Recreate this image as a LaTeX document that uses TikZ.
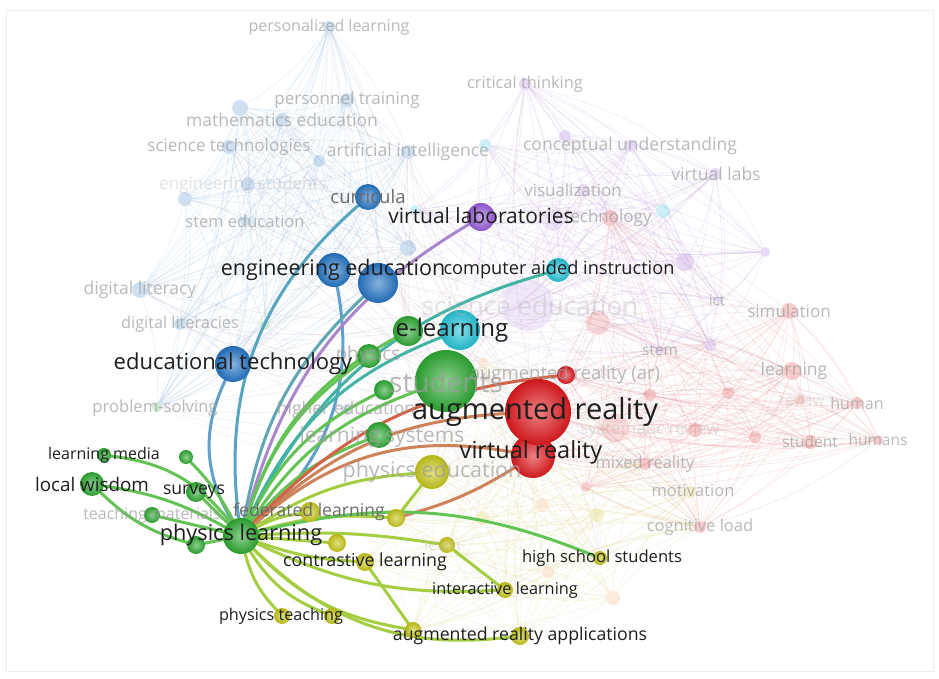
\documentclass[tikz,border=0pt]{standalone}
\usepackage{fontspec}
\setmainfont{Open Sans}

\pgfdeclarelayer{paper}
\pgfdeclarelayer{faintedges}
\pgfdeclarelayer{faintnodes}
\pgfdeclarelayer{edges}
\pgfdeclarelayer{fadedlabels}
\pgfdeclarelayer{labels}
\pgfsetlayers{paper,faintedges,faintnodes,edges,main,fadedlabels,labels}

% cluster colours
\definecolor{vgreen}{RGB}{45,168,50}
\definecolor{vblue}{RGB}{35,115,195}
\definecolor{vred}{RGB}{222,25,30}
\definecolor{vyellow}{RGB}{198,198,25}
\definecolor{vpurple}{RGB}{150,90,215}
\definecolor{vcyan}{RGB}{35,195,215}
\definecolor{vorange}{RGB}{245,160,90}
% highlighted link colours
\definecolor{egreen}{RGB}{100,195,85}
\definecolor{eteal}{RGB}{65,180,165}
\definecolor{eblue}{RGB}{95,160,205}
\definecolor{epurple}{RGB}{170,135,205}
\definecolor{ebrown}{RGB}{205,130,90}
\definecolor{eyellow}{RGB}{165,205,65}
% background mesh colours
\definecolor{meshblue}{RGB}{120,170,220}
\definecolor{meshpurple}{RGB}{175,140,220}
\definecolor{meshred}{RGB}{235,120,120}
\definecolor{meshyellow}{RGB}{215,205,110}
\definecolor{labelink}{RGB}{30,30,30}

\tikzset{
  ball/.style 2 args={circle, inner sep=0pt, minimum size=#2pt, shading=radial,
    inner color=#1!55!white, outer color=#1!92!black},
  haze/.style 2 args={circle, inner sep=0pt, minimum size=#2pt, fill=#1, fill opacity=0.22},
  link/.style={line width=3pt, line cap=round},
  mesh/.style={line width=0.7pt, draw opacity=0.16},
  lab/.style={inner sep=0pt, text=labelink, font=\fontsize{#1}{#1}\selectfont},
  midlab/.style={inner sep=0pt, text=black!58, font=\fontsize{#1}{#1}\selectfont},
  dim/.style={inner sep=0pt, text=black!38, text opacity=0.72, font=\fontsize{#1}{#1}\selectfont},
  dimmer/.style={inner sep=0pt, text=black!30, text opacity=0.35, font=\fontsize{#1}{#1}\selectfont},
}

\begin{document}
\begin{tikzpicture}[x=1pt,y=-1pt]
\useasboundingbox (0,0) rectangle (939,679);
\begin{pgfonlayer}{paper}
\fill[white] (0,0) rectangle (939,679);
\draw[black!7, line width=0.8pt] (6,10) rectangle (933,671);
\end{pgfonlayer}

% ---------- faded items ----------
\begin{pgfonlayer}{faintnodes}
% blue cluster
\node[haze={vblue}{12}] (perl) at (329,27) {};
\node[haze={vblue}{14}] (pert) at (347,100) {};
\node[haze={vblue}{16}] (b240) at (240,108) {};
\node[haze={vblue}{14}] (mathe) at (282,120) {};
\node[haze={vblue}{14}] (scit) at (229,147) {};
\node[haze={vblue}{14}] (ai) at (408,152) {};
\node[haze={vblue}{12}] (b319) at (319,161) {};
\node[haze={vblue}{14}] (engs) at (248,184) {};
\node[haze={vblue}{14}] (b185) at (185,199) {};
\node[haze={vblue}{10}] (stemed) at (245,221) {};
\node[haze={vblue}{16}] (diglit) at (140,290) {};
\node[haze={vblue}{12}] (diglits) at (180,324) {};
\node[haze={vblue}{16}] (b410) at (408,248) {};
\node[haze={vblue}{10}] (he) at (346,410) {};
% green
\node[haze={vgreen}{10}] (ps) at (157,407) {};
\node[haze={vgreen}{10}] (g265) at (265,325) {};
% purple and cyan
\node[haze={vpurple}{12}] (ct) at (525,84) {};
\node[haze={vpurple}{12}] (p565) at (565,136) {};
\node[haze={vpurple}{12}] (cu) at (630,146) {};
\node[haze={vpurple}{12}] (vis) at (583,190) {};
\node[haze={vpurple}{12}] (vlabs) at (715,174) {};
\node[haze={vpurple}{52}, fill opacity=0.13] (se) at (528,305) {};
\node[haze={vpurple}{18}] (p685) at (685,262) {};
\node[haze={vpurple}{10}] (p765) at (765,252) {};
\node[haze={vpurple}{12}] (p710) at (710,345) {};
\node[haze={vpurple}{6}] (ict) at (720,300) {};
\node[haze={vpurple}{8}] (stemn) at (660,350) {};
\node[haze={vpurple}{22}, fill opacity=0.15] (p548) at (553,220) {};
\node[haze={vcyan}{12}] (c485) at (485,145) {};
\node[haze={vcyan}{14}] (c663) at (663,211) {};
\node[haze={vcyan}{10}] (c415) at (415,210) {};
% red
\node[haze={vred}{16}] (tech) at (610,218) {};
\node[haze={vred}{24}, fill opacity=0.16] (r598) at (598,323) {};
\node[haze={vred}{16}] (sim) at (789,311) {};
\node[haze={vred}{18}] (lrng) at (792,371) {};
\node[haze={vred}{10}] (rev) at (800,400) {};
\node[haze={vred}{12}] (hum) at (857,403) {};
\node[haze={vred}{10}] (hums) at (878,440) {};
\node[haze={vred}{14}] (studnt) at (810,442) {};
\node[haze={vred}{28}, fill opacity=0.14] (r615) at (615,428) {};
\node[haze={vred}{12}] (r650) at (650,395) {};
\node[haze={vred}{12}] (r728) at (728,393) {};
\node[haze={vred}{14}] (sysr) at (695,430) {};
\node[haze={vred}{12}] (r755) at (755,437) {};
\node[haze={vred}{12}] (mr) at (645,464) {};
\node[haze={vred}{12}] (cog) at (700,527) {};
\node[haze={vred}{10}] (r586) at (586,487) {};
% orange and yellow
\node[haze={vorange}{14}] (o542) at (542,505) {};
\node[haze={vorange}{12}] (o548) at (548,572) {};
\node[haze={vorange}{14}] (o613) at (613,598) {};
\node[haze={vorange}{10}] (o483) at (483,362) {};
\node[haze={vyellow}{12}] (mot) at (690,492) {};
\node[haze={vyellow}{14}] (o597) at (597,515) {};
\node[haze={vyellow}{14}] (y482) at (482,518) {};
\end{pgfonlayer}

% ---------- highlighted nodes ----------
\node[ball={vgreen}{36}] (pl) at (241,536) {};
\node[ball={vblue}{26}] (curr) at (368,197) {};
\node[ball={vblue}{34}] (ee) at (334,270) {};
\node[ball={vblue}{40}] (ee2) at (378,283) {};
\node[ball={vblue}{36}] (et) at (233,364) {};
\node[ball={vpurple}{28}] (vl) at (481,217) {};
\node[ball={vcyan}{24}] (cai) at (558,270) {};
\node[ball={vgreen}{30}] (elg) at (408,331) {};
\node[ball={vcyan}{40}] (elc) at (460,330) {};
\node[ball={vgreen}{24}] (phy) at (369,356) {};
\node[ball={vgreen}{20}] (g1) at (384,390) {};
\node[ball={vgreen}{62}] (stu) at (446,381) {};
\node[ball={vgreen}{26}] (ls) at (379,435) {};
\node[ball={vred}{18}] (arar) at (566,375) {};
\node[ball={vred}{44}] (vr) at (533,456) {};
\node[ball={vred}{66}] (ar) at (538,412) {};
\node[ball={vyellow}{34}] (pe) at (432,472) {};
\node[ball={vyellow}{18}] (y396) at (396,518) {};
\node[ball={vyellow}{20}] (fed) at (310,512) {};
\node[ball={vyellow}{18}] (y337) at (337,543) {};
\node[ball={vyellow}{18}] (cl) at (365,562) {};
\node[ball={vyellow}{16}] (lrn) at (447,545) {};
\node[ball={vyellow}{14}] (hss) at (600,558) {};
\node[ball={vyellow}{16}] (il) at (505,590) {};
\node[ball={vyellow}{18}] (ara) at (520,636) {};
\node[ball={vyellow}{16}] (ara2) at (413,630) {};
\node[ball={vyellow}{16}] (pt) at (282,616) {};
\node[ball={vyellow}{16}] (pt2) at (332,616) {};
\node[ball={vgreen}{14}] (lm) at (104,455) {};
\node[ball={vgreen}{14}] (g186) at (186,457) {};
\node[ball={vgreen}{24}] (lw) at (92,484) {};
\node[ball={vgreen}{20}] (sur) at (196,492) {};
\node[ball={vgreen}{16}] (tm) at (152,515) {};
\node[ball={vgreen}{18}] (g196) at (196,545) {};

% ---------- background co-occurrence mesh ----------
\def\bluelist{perl,pert,b240,mathe,scit,ai,b319,engs,b185,stemed,diglit,diglits,b410,curr,ee,ee2,et,ps,g265}
\def\purplelist{ct,p565,cu,vis,vlabs,se,p685,p765,p710,ict,stemn,p548,vl,c485,c663,c415,cai,elc,tech}
\def\redlist{tech,r598,sim,lrng,rev,hum,hums,studnt,r615,r650,r728,sysr,r755,mr,cog,ar,vr,arar,stemn,p710,r586}
\def\yellowlist{pe,o542,o597,o548,o613,o483,y482,mot,hss,il,ara,ara2,lrn,cl,y396,mr,cog,vr,ar}
\begin{pgfonlayer}{faintedges}
\foreach \a [count=\i] in \bluelist {
  \foreach \b [count=\j] in \bluelist {
    \ifnum\j>\i \draw[mesh, meshblue] (\a) to[bend left=10] (\b); \fi
  }
}
\foreach \a [count=\i] in \purplelist {
  \foreach \b [count=\j] in \purplelist {
    \ifnum\j>\i \draw[mesh, meshpurple] (\a) to[bend left=10] (\b); \fi
  }
}
\foreach \a [count=\i] in \redlist {
  \foreach \b [count=\j] in \redlist {
    \ifnum\j>\i \draw[mesh, meshred] (\a) to[bend left=10] (\b); \fi
  }
}
\foreach \a [count=\i] in \yellowlist {
  \foreach \b [count=\j] in \yellowlist {
    \ifnum\j>\i \draw[mesh, meshyellow] (\a) to[bend left=10] (\b); \fi
  }
}
\foreach \h in {ar,stu,se} {
  \foreach \b in {perl,pert,mathe,scit,ai,ct,cu,vlabs,sim,lrng,hum,hums,studnt,diglit,ps,mot,cog,hss,stemed,diglits,b240,p685} {
    \draw[mesh, meshred!50!meshblue] (\h) to[bend left=10] (\b);
  }
}
\foreach \h in {et,ee,elg,pe,vr} {
  \foreach \b in {ai,b410,c415,vis,p548,r598,r615,r650,o483,o542,y482,mr,he,g265,diglits,ps,lrng,sim} {
    \draw[mesh, draw opacity=0.1, meshblue!50!meshred] (\h) to[bend left=10] (\b);
  }
}
\end{pgfonlayer}

% ---------- highlighted links ----------
\begin{pgfonlayer}{edges}
\draw[link, eblue] (pl) to[bend left=28] (et);
\draw[link, eblue!70!eteal] (pl) to[bend left=28] (curr);
\draw[link, eblue] (pl) to[bend right=30] (ee);
\draw[link, eblue!80!egreen] (pl) to[bend left=18] (ee2);
\draw[link, epurple] (pl) to[bend left=22] (vl);
\draw[link, eteal] (pl) to[bend left=24] (cai);
\draw[link, eteal] (pl) to[bend left=22] (elc);
\draw[link, egreen] (pl) to[bend left=22] (elg);
\draw[link, egreen] (pl) to[bend left=18] (phy);
\draw[link, egreen] (pl) to[bend left=18] (g1);
\draw[link, egreen] (pl) to[bend left=18] (stu);
\draw[link, egreen] (pl) to[bend left=14] (ls);
\draw[link, ebrown] (pl) to[bend left=20] (ar);
\draw[link, ebrown!70!vred] (pl) to[bend left=20] (arar);
\draw[link, ebrown] (pl) to[bend left=26] (vr);
\draw[link, eyellow] (pl) to[bend left=14] (pe);
\draw[link, eyellow] (pl) to[bend left=10] (y396);
\draw[link, ebrown] (y396) to[bend right=8] (vr);
\draw[link, eyellow] (y396) to (pe);
\draw[link, eyellow] (pl) to[bend left=10] (fed);
\draw[link, eyellow] (pl) to (y337);
\draw[link, eyellow] (pl) to[bend right=8] (cl);
\draw[link, eyellow] (pl) to[bend left=6] (lrn);
\draw[link, egreen] (pl) to[bend left=18] (hss);
\draw[link, eyellow] (pl) to[bend right=14] (il);
\draw[link, eyellow] (pl) to[bend right=26] (ara);
\draw[link, eyellow] (pl) to[bend right=18] (ara2);
\draw[link, eyellow] (cl) to (ara2);
\draw[link, eyellow] (lrn) to (il);
\draw[link, eyellow] (pl) to[bend right=14] (pt);
\draw[link, eyellow] (pl) to[bend right=18] (pt2);
\draw[link, egreen] (pl) to[bend right=22] (lm);
\draw[link, egreen] (pl) to[bend right=8] (g186);
\draw[link, egreen] (pl) to[bend right=10] (lw);
\draw[link, egreen] (pl) to (sur);
\draw[link, egreen] (pl) to (tm);
\draw[link, egreen] (pl) to (g196);
\draw[link, egreen] (lw) to[bend right=14] (g196);
\end{pgfonlayer}

% ---------- faded labels ----------
\begin{pgfonlayer}{fadedlabels}
\node[dim=16] (t-perl) at (329,27) {personalized learning};
\node[dim=17] (t-pert) at (347,100) {personnel training};
\node[dim=17.5] (t-mathe) at (282,120) {mathematics education};
\node[dim=17] (t-scit) at (229,147) {science technologies};
\node[dim=17.5] (t-ai) at (408,152) {artificial intelligence};
\node[dimmer=17] (t-engs) at (243,185) {engineering students};
\node[dim=16.5] (t-stemed) at (245,221) {stem education};
\node[dim=17.5] (t-diglit) at (140,290) {digital literacy};
\node[dim=16.3] (t-diglits) at (180,324) {digital literacies};
\node[dim=16.6] (t-ps) at (155,408) {problem-solving};
\node[dim=17.5] (t-he) at (346,410) {higher education};
\node[dim=16.4] (t-ct) at (525,84) {critical thinking};
\node[dim=17.5] (t-cu) at (630,146) {conceptual understanding};
\node[dim=16.9] (t-vis) at (573,190) {visualization};
\node[dim=17.5] (t-vlabs) at (716,174) {virtual labs};
\node[dim=17] (t-tech) at (608,218) {technology};
\node[dimmer=26] (t-se) at (530,306) {science education};
\node[dim=15] (t-ict) at (717,300) {ict};
\node[dim=17] (t-sim) at (789,311) {simulation};
\node[dim=15.5] (t-stemn) at (660,350) {stem};
\node[dim=17.5] (t-lrng) at (794,371) {learning};
\node[dimmer=15] (t-rev) at (802,400) {review};
\node[dim=16] (t-hum) at (857,403) {human};
\node[dimmer=17] (t-sysr) at (650,430) {systematic review};
\node[dim=15.5] (t-studnt) at (810,442) {student};
\node[dim=15.5] (t-hums) at (878,440) {humans};
\node[dim=16.5] (t-mr) at (645,464) {mixed reality};
\node[dim=16.5] (t-mot) at (693,491) {motivation};
\node[dim=16.5] (t-cog) at (700,527) {cognitive load};
\node[dim=16] (t-tm) at (152,515) {teaching materials};
\node[dimmer=15] (t-lrn) at (445,545) {learn-};
\node[dim=19] (t-phy) at (368,356) {physics};
\node[dim=28] (t-stu) at (446,382) {students};
\node[dim=18.5] (t-arar) at (565,375) {augmented reality (ar)};
\node[dim=21] (t-ls) at (382,437) {learning systems};
\node[dim=21.5] (t-pe) at (432,472) {physics education};
\end{pgfonlayer}

% ---------- highlighted labels ----------
\begin{pgfonlayer}{labels}
\node[midlab=18.5] (t-curr) at (368,197) {curricula};
\node[lab=21] (t-vl) at (481,216) {virtual laboratories};
\node[lab=21.5] (t-ee) at (333,270) {engineering education};
\node[lab=18.2] (t-cai) at (559,270) {computer aided instruction};
\node[lab=24] (t-el) at (452,330) {e-learning};
\node[lab=22] (t-et) at (233,364) {educational technology};
\node[lab=29] (t-ar) at (535,412) {augmented reality};
\node[lab=23.5] (t-vr) at (531,452) {virtual reality};
\node[lab=16] (t-lm) at (104,455) {learning media};
\node[lab=18.8] (t-lw) at (92,484) {local wisdom};
\node[lab=17.6] (t-sur) at (194,492) {surveys};
\node[midlab=17.6] (t-fed) at (309,512) {federated learning};
\node[lab=21.7] (t-pl) at (241,535) {physics learning};
\node[lab=17.8] (t-cl) at (365,562) {contrastive learning};
\node[lab=16.6] (t-hss) at (602,558) {high school students};
\node[lab=16.3] (t-il) at (505,590) {interactive learning};
\node[lab=16.2] (t-pt) at (281,616) {physics teaching};
\node[lab=17.7] (t-ara) at (520,636) {augmented reality applications};
\end{pgfonlayer}
\end{tikzpicture}
\end{document}
